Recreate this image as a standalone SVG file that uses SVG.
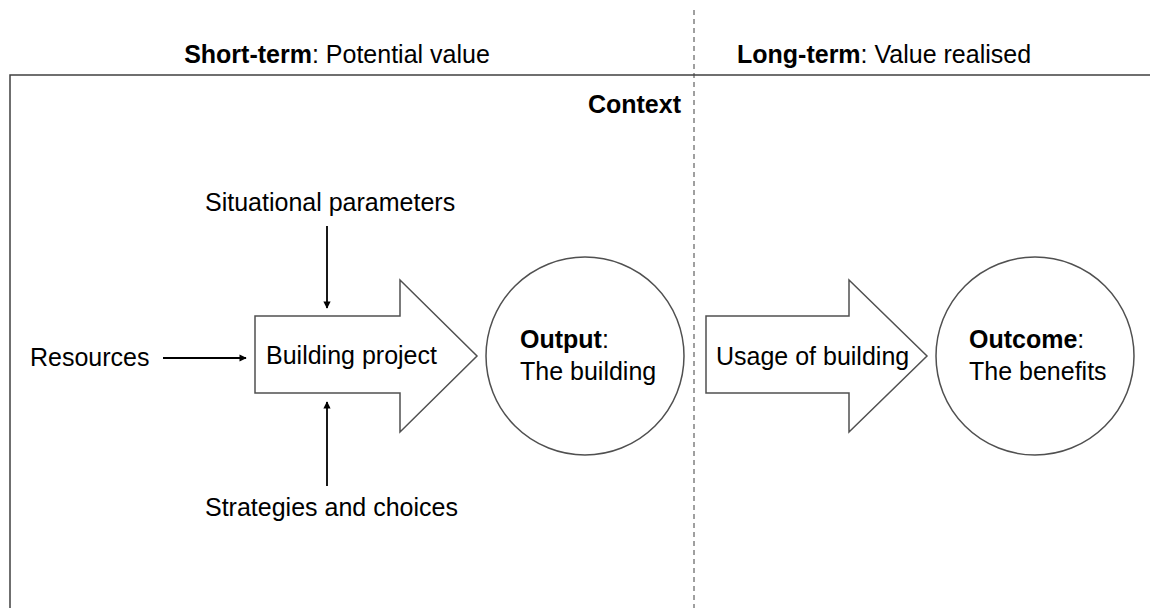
<svg xmlns="http://www.w3.org/2000/svg" width="1150" height="608" viewBox="0 0 1150 608">
  <style>
    text { font-family: "Liberation Sans", Arial, sans-serif; font-size: 25px; fill: #000; }
    .b { font-weight: bold; }
    .frame { fill: none; stroke: #404040; stroke-width: 1.5; }
    .divider { fill: none; stroke: #404040; stroke-width: 1; stroke-dasharray: 5 4; }
    .shape { fill: #fff; stroke: #505050; stroke-width: 1.5; }
    .conn { fill: none; stroke: #000; stroke-width: 1.8; }
  </style>
  <defs>
    <marker id="head" viewBox="0 0 10 10" refX="9" refY="5" markerWidth="4.5" markerHeight="4" orient="auto" markerUnits="strokeWidth">
      <path d="M0,0 L10,5 L0,10 z" fill="#000"/>
    </marker>
  </defs>
  <rect width="1150" height="608" fill="#fff"/>

  <!-- context frame and time divider -->
  <g id="frame">
    <path class="frame" d="M10,608 L10,75 L1150,75"/>
    <line class="divider" x1="694" y1="10" x2="694" y2="608"/>
    <text x="337" y="63" text-anchor="middle"><tspan class="b">Short-term</tspan>: Potential value</text>
    <text x="737" y="63"><tspan class="b">Long-term</tspan>: Value realised</text>
    <text class="b" x="681" y="113" text-anchor="end">Context</text>
  </g>

  <g id="situational">
    <text x="205" y="211">Situational parameters</text>
  </g>
  <g id="resources">
    <text x="30" y="366">Resources</text>
  </g>
  <g id="strategies">
    <text x="205" y="516">Strategies and choices</text>
  </g>

  <g id="building-project">
    <path class="shape" d="M255,316 L400,316 L400,280 L477,356 L400,432 L400,393 L255,393 z"/>
    <text x="266" y="364">Building project</text>
  </g>

  <g id="output">
    <circle class="shape" cx="585" cy="356" r="99"/>
    <text x="520" y="348"><tspan class="b">Output</tspan>:</text>
    <text x="520" y="380">The building</text>
  </g>

  <g id="usage">
    <path class="shape" d="M706,316 L849,316 L849,280 L927,356 L849,432 L849,393 L706,393 z"/>
    <text x="716" y="365">Usage of building</text>
  </g>

  <g id="outcome">
    <circle class="shape" cx="1035" cy="356" r="99"/>
    <text x="969" y="348"><tspan class="b">Outcome</tspan>:</text>
    <text x="969" y="380">The benefits</text>
  </g>

  <g id="connectors">
    <line class="conn" x1="163" y1="358" x2="246" y2="358" marker-end="url(#head)"/>
    <line class="conn" x1="327" y1="226" x2="327" y2="308" marker-end="url(#head)"/>
    <line class="conn" x1="327" y1="486" x2="327" y2="402" marker-end="url(#head)"/>
  </g>
</svg>
